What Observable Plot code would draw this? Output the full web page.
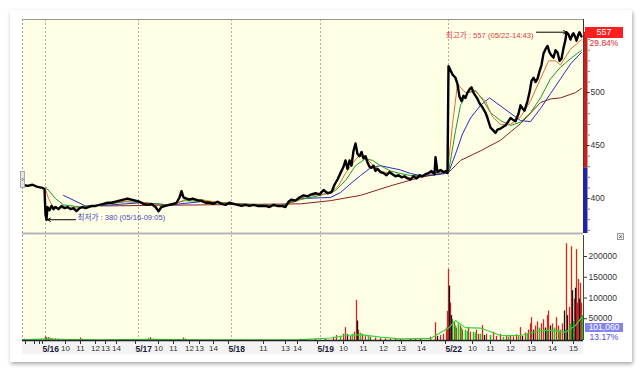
<!DOCTYPE html>
<html><head><meta charset="utf-8">
<script src="https://cdn.jsdelivr.net/npm/d3@7"></script>
<script src="https://cdn.jsdelivr.net/npm/@observablehq/plot@0.6"></script>
<style>
html,body{margin:0;padding:0;background:#fff;}
#wrap{position:relative;width:643px;height:374px;overflow:hidden;font-family:"Liberation Sans",Arial,sans-serif;}
#card{position:absolute;left:10px;top:10px;width:622px;height:352px;background:#fff;box-shadow:1px 2px 4px rgba(0,0,0,0.35);}
.abs{position:absolute;}
</style></head>
<body><div id="wrap"><div id="card"></div></div>
<script>
// ---- data (bar = sequence index of the tick chart) ----
const priceSeries = [[0,413],[5,412],[10,413],[15,411],[20,410],[22,409],[23,385],[24,380],[25,392],[27,389],[29,393],[31,390],[33,392],[36,390],[39,393],[42,391],[45,392],[48,390],[51,391],[54,388],[57,391],[60,392],[63,391],[66,392],[69,393],[73,393],[77,394],[81,395],[85,396],[89,396],[93,397],[97,398],[101,399],[105,400],[109,399],[113,398],[117,397],[121,395],[125,394],[129,395],[133,392],[136,388],[139,392],[143,393],[147,394],[151,395],[154,396],[157,401],[159,407],[161,401],[164,400],[167,399],[170,400],[173,399],[176,398],[179,398],[183,396],[187,396],[191,395],[195,397],[199,395],[203,394],[207,396],[211,395],[215,394],[219,393],[223,394],[227,393],[231,394],[235,393],[239,393],[243,393],[247,392],[251,394],[255,393],[259,393],[263,392],[266,397],[269,399],[273,398],[277,401],[281,403],[285,402],[289,404],[293,405],[297,404],[301,408],[305,405],[309,406],[312,413],[315,418],[318,424],[321,430],[323,436],[325,428],[327,436],[329,431],[331,445],[333,452],[335,442],[337,440],[339,444],[341,438],[343,440],[345,434],[347,430],[349,429],[351,431],[353,426],[355,428],[358,425],[361,424],[364,422],[367,425],[370,423],[373,421],[376,422],[379,420],[382,421],[385,419],[388,418],[391,421],[394,419],[397,422],[400,421],[403,423],[406,424],[409,426],[412,423],[413,439],[415,425],[418,427],[421,425],[424,426],[425,424],[426,525],[428,521],[430,517],[433,514],[435,508],[437,496],[439,492],[441,497],[443,495],[445,500],[447,503],[449,505],[451,500],[453,497],[455,494],[457,490],[460,486],[463,481],[465,476],[468,467],[470,465],[473,462],[475,465],[478,466],[481,468],[483,469],[486,473],[488,476],[491,474],[493,473],[496,480],[498,488],[500,485],[502,483],[505,492],[507,500],[509,511],[511,514],[513,510],[515,513],[517,520],[519,526],[521,537],[523,541],[525,544],[527,538],[529,535],[531,533],[533,540],[535,538],[537,530],[539,532],[541,542],[543,550],[544,557],[546,555],[548,550],[550,555],[551,556],[553,552],[554,549],[556,555],[557,557],[559,553]];
const maFast = [[20,410],[23,409],[26,400],[30,393],[36,391],[48,391],[68,392],[88,396],[108,398],[123,396],[138,393],[156,396],[164,400],[178,399],[198,396],[228,394],[263,393],[270,396],[283,402],[308,405],[316,412],[323,424],[330,433],[336,440],[343,439],[350,432],[358,426],[373,422],[388,419.5],[403,422],[418,425],[425,425],[430,470],[435,508],[443,500],[453,501],[463,492],[470,477],[478,470],[488,470],[498,477],[508,492],[518,513],[526,530],[533,530],[538,526],[548,541],[559,550]];
const maMid = [[23,411],[33,400],[41,394],[58,392],[78,394],[103,397],[123,396],[143,394],[163,398],[188,397],[218,395],[258,393],[278,399],[298,403],[313,407.5],[323,417],[333,431],[343,437.7],[350,436],[358,431],[368,426],[378,423.6],[388,421.7],[398,421.7],[418,424.5],[426,425],[433,464],[438,488],[445,500],[453,502],[461,492],[468,481],[478,473.6],[488,469],[498,472],[508,481],[518,495],[528,513],[538,524],[548,532],[559,540]];
const maSlow = [[41,403],[63,393],[88,394],[118,396],[148,394],[178,397],[218,395],[258,393],[278,400],[308,401],[318,405.6],[328,414],[338,421.7],[348,429],[358,431],[368,429],[378,427],[388,423.6],[398,421.7],[408,421.7],[423,423.6],[426,424.5],[433,442],[440,461],[448,476],[458,488],[467,495],[498,473.6],[508,472.6],[518,485],[528,499],[538,513],[548,527],[559,538]];
const maLong = [[78,393],[178,394],[278,395],[308,398],[338,403],[368,412],[398,420],[418,423.6],[426,424.5],[438,436],[458,445],[478,455],[498,470.7],[518,490.6],[528,494],[538,495],[553,500],[559,504]];
const volRed = [[2,3000],[8,2000],[14,2500],[23,9000],[26,7000],[28,5000],[33,4000],[36,3000],[40,2000],[48,1500],[58,6000],[73,1500],[88,1500],[118,2500],[126,4000],[128,7000],[131,3000],[138,2000],[161,6000],[178,1500],[218,1500],[238,1200],[278,3000],[293,2500],[303,3000],[311,8000],[314,12000],[321,15000],[323,31000],[328,10000],[332,20000],[334,97000],[336,25000],[340,15000],[343,12000],[348,8000],[353,6000],[358,5000],[363,4000],[368,3000],[373,2500],[378,3000],[388,4000],[393,5000],[398,3000],[408,8000],[413,43000],[418,12000],[421,15000],[424,30000],[425,70000],[426,171000],[428,90000],[432,45000],[434,30000],[438,35000],[440,25000],[446,30000],[448,20000],[454,25000],[456,15000],[460,36000],[464,15000],[471,20000],[474,10000],[478,15000],[484,12000],[488,10000],[491,9000],[494,14000],[498,31000],[503,18000],[506,25000],[508,40000],[509,55000],[513,35000],[515,45000],[519,40000],[521,50000],[525,60000],[526,71000],[530,40000],[534,55000],[536,35000],[538,25000],[540,40000],[544,233000],[547,80000],[549,226000],[552,100000],[554,219000],[555,90000],[556,147000],[558,138000],[559,90000]];
const volGreen = [[18,2000],[30,4000],[283,2000],[318,10000],[330,15000],[338,18000],[346,10000],[430,50000],[433,35000],[436,40000],[439,30000],[443,25000],[445,22000],[451,20000],[453,18000],[458,15000],[468,12000],[481,8000],[486,9000],[496,10000],[505,15000],[511,20000],[517,30000],[524,25000],[532,30000],[537,20000],[543,25000],[548,40000],[551,45000],[557,55000],[560,60000]];
const volBlack = [[24,6000],[60,3000],[163,3000],[325,14000],[335,47000],[415,10000],[427,131000],[429,60000],[462,12000],[500,10000],[511,25000],[523,30000],[528,35000],[542,71000],[545,60000],[550,120000],[553,126000],[557,100000]];
const volMA = [[0,1500],[23,4000],[38,3000],[78,1500],[128,2500],[178,1500],[278,2000],[308,6000],[323,12000],[338,14000],[358,8000],[378,4000],[408,5000],[426,30000],[433,48000],[443,31000],[458,30000],[478,12000],[498,12000],[518,24000],[528,25000],[543,20000],[553,36000],[559,55000]];
const dayTicks = [23,116,209,298,426];
const dayLabels = ["5/16","5/17","5/18","5/19","5/22"];
const hourTicks = [43,58,73,83,94,136,151,167,177,191,241,263,275,321,341,361,379,399,450,468,488,509,530,551];
const hourLabels = ["10","11","12","13","14","10","11","12","13","14","11","13","14","10","11","12","13","14","10","11","12","13","14","15"];
const minorTicks = [3,12,17];
const priceTicks = [400,450,500];
const volTicks = [50000,100000,150000,200000];
const highPoint = [{bar:544, price:557, time:"05/22-14:43"}];
const lowPoint = [{bar:24, price:380, time:"05/16-09:05"}];
const lastPrice = 557, prevClose = 429, changeText = "29.84%";
const lastVolume = "101,060", volChangeText = "13.17%";

const xDomain = [0, 561];
const bg = "#ffffe6";
const dayMap = new Map(dayTicks.map((d,i)=>[d,dayLabels[i]]));
const hourMap = new Map(hourTicks.map((d,i)=>[d,hourLabels[i]]));
const numFont = "Liberation Sans, Arial, sans-serif";
const krFont = "Liberation Sans, Noto Sans CJK KR, sans-serif";
const X = d=>d[0], Y = d=>d[1];

const pricePlot = Plot.plot({
  width: 643, height: 234, marginLeft: 22, marginRight: 60, marginTop: 19, marginBottom: 1,
  x: {domain: xDomain, axis: null, label: null},
  y: {domain: [367, 569], label: null},
  style: {background: "transparent", fontFamily: numFont, color: "#333", overflow: "visible"},
  marks: [
    Plot.frame({fill: bg, stroke: null}),
    Plot.ruleX(dayTicks, {stroke: "#b0b0b0", strokeDasharray: "2,2"}),
    Plot.ruleX([0], {stroke: "#a0a0a0", strokeDasharray: "2,2"}),
    Plot.ruleY([569], {stroke: "#9a9a9a", strokeWidth: 1.2}),
    Plot.ruleY([367], {stroke: "#b4b4b4", strokeWidth: 2}),
    Plot.line(maLong, {x: X, y: Y, stroke: "#8c1f1a", strokeWidth: 1}),
    Plot.line(maSlow, {x: X, y: Y, stroke: "#2a2ac8", strokeWidth: 1}),
    Plot.line(maMid, {x: X, y: Y, stroke: "#1e9a1e", strokeWidth: 1}),
    Plot.line(maFast, {x: X, y: Y, stroke: "#e0702a", strokeWidth: 1}),
    Plot.line(priceSeries, {x: X, y: Y, stroke: "#000", strokeWidth: 2.4}),
    Plot.text(highPoint, {x: "bar", y: "price", text: d => `최고가 : ${d.price} (${d.time})`, textAnchor: "end", dx: -33, dy: 3, fill: "#d84040", fontSize: 7.6, fontFamily: krFont}),
    Plot.arrow(highPoint, {x1: d => d.bar - 30, x2: "bar", y1: "price", y2: "price", stroke: "#000", strokeWidth: 1, headLength: 5, inset: 0}),
    Plot.text(lowPoint, {x: "bar", y: "price", text: d => `최저가 : ${d.price} (${d.time})`, textAnchor: "start", dx: 31, dy: -2, fill: "#4848c8", fontSize: 7.6, fontFamily: krFont}),
    Plot.arrow(lowPoint, {x1: d => d.bar + 29, x2: d => d.bar + 1, y1: "price", y2: "price", stroke: "#000", strokeWidth: 1, headLength: 5, inset: 0}),
    Plot.ruleX([xDomain[1]], {stroke: "#333", strokeWidth: 1}),
    Plot.ruleX([xDomain[1]], {y1: prevClose, y2: lastPrice, stroke: "#c4221e", strokeWidth: 4, dx: 2}),
    Plot.ruleX([xDomain[1]], {y1: 367, y2: prevClose, stroke: "#2222a8", strokeWidth: 4, dx: 2}),
    Plot.axisY(d3.range(370, 570, 10), {anchor: "right", tickSize: 2, dx: 4, tickFormat: () => "", stroke: "#777", label: null}),
    Plot.axisY(priceTicks, {anchor: "right", tickSize: 3, tickPadding: 2, dx: 2, fontSize: 8.5, tickFormat: d => String(d), label: null})
  ]
});

const volPlot = Plot.plot({
  width: 643, height: 140, marginLeft: 22, marginRight: 60, marginTop: 1, marginBottom: 34,
  x: {domain: xDomain, label: null},
  y: {domain: [0, 253000], label: null},
  style: {background: "transparent", fontFamily: numFont, color: "#333", overflow: "visible"},
  marks: [
    Plot.frame({fill: bg, stroke: null}),
    Plot.ruleX(dayTicks, {stroke: "#b0b0b0", strokeDasharray: "2,2"}),
    Plot.ruleX([0], {stroke: "#a0a0a0", strokeDasharray: "2,2"}),
    Plot.ruleX(volRed, {x: X, y1: 0, y2: Y, stroke: "#d42424", strokeWidth: 1.3}),
    Plot.ruleX(volGreen, {x: X, y1: 0, y2: Y, stroke: "#1fc81f", strokeWidth: 1.6}),
    Plot.ruleX(volBlack, {x: X, y1: 0, y2: Y, stroke: "#111", strokeWidth: 1.3}),
    Plot.line(volMA, {x: X, y: Y, stroke: "#3ad23a", strokeWidth: 1.2}),
    Plot.ruleY([0], {stroke: "#222", strokeWidth: 1.3}),
    Plot.ruleX([xDomain[1]], {stroke: "#444"}),
    Plot.axisY(volTicks, {anchor: "right", tickSize: 3, tickPadding: 2, fontSize: 8.5, dy: -1, tickFormat: d => String(d), label: null}),
    Plot.axisX(minorTicks, {tickSize: 4, tickFormat: () => "", label: null}),
    Plot.axisX(hourTicks, {tickSize: 4, tickPadding: 1, fontSize: 8, tickFormat: d => hourMap.get(d), label: null}),
    Plot.axisX(dayTicks, {tickSize: 4, tickPadding: 1, fontSize: 8.5, fontWeight: "bold", textAnchor: "start", dx: -3, fill: "#1a1a3a", tickFormat: d => dayMap.get(d), label: null})
  ]
});

const wrap = document.getElementById("wrap");
// x-axis label band
const band = document.createElement("div");
band.className = "abs";
Object.assign(band.style, {left: "22px", top: "341px", width: "561px", height: "13px", background: "#f3f3f3"});
wrap.appendChild(band);

pricePlot.style.position = "absolute"; pricePlot.style.left = "0px"; pricePlot.style.top = "0px";
volPlot.style.position = "absolute"; volPlot.style.left = "0px"; volPlot.style.top = "234px";
wrap.appendChild(pricePlot);
wrap.appendChild(volPlot);

function box(text, left, top, w, h, bgc, color, size, align) {
  const d = document.createElement("div");
  d.className = "abs";
  d.textContent = text;
  Object.assign(d.style, {left: left+"px", top: top+"px", width: w+"px", height: h+"px", lineHeight: h+"px",
    background: bgc, color: color, fontSize: size+"px", textAlign: align || "center", fontFamily: numFont});
  wrap.appendChild(d);
  return d;
}
const yP = pricePlot.scale("y").apply(lastPrice);
box(String(lastPrice), 585, Math.round(yP) - 5, 38, 11, "#ff1e1e", "#fff", 9);
box(changeText, 585, Math.round(yP) + 6, 38, 11, "transparent", "#e02828", 8.5);
box(lastVolume, 585, 323, 38, 9, "#8484f0", "#fff", 8.5);
box(volChangeText, 585, 332, 38, 10, "transparent", "#4a4ad0", 8.5);

// side handle
const h = box("›", 20, 171, 5, 17, "#e4e4e4", "#444", 8);
h.style.border = "1px solid #a8a8a8"; h.style.boxSizing = "border-box"; h.style.lineHeight = "15px";
// close icon
const c = box("×", 617, 233, 7, 7, "#eee", "#555", 7);
c.style.border = "1px solid #999"; c.style.boxSizing = "border-box"; c.style.lineHeight = "5px";
</script>
</body></html>
